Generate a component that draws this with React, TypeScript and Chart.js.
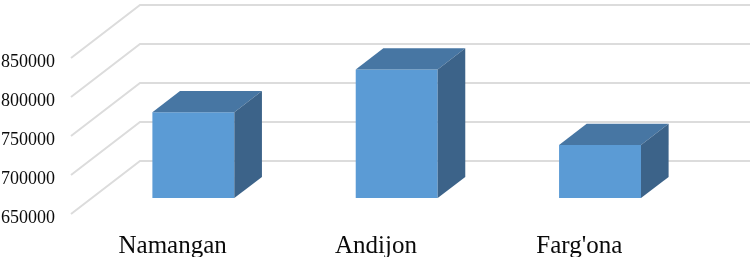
import React, { useEffect, useRef } from "react";
import { Chart, registerables } from "chart.js";

Chart.register(...registerables);

const categories = ["Namangan", "Andijon", "Farg'ona"];
const values = [760000, 815000, 718000];
const yMin = 650000;
const yMax = 850000;
const yStep = 50000;

const FONT = "'Liberation Serif', 'Times New Roman', serif";
const DEPTH_X = 69;
const DEPTH_Y = 53;
const BAR_START = 0.3;
const BAR_DEPTH = 0.4;
const FRONT = "#5b9bd5";
const TOP = "#4776a3";
const SIDE = "#3c6389";
const GRID = "#dcdcdc";
const TEXT = "#0a0a0a";

const wall3d = {
  id: "wall3d",
  beforeDatasetsDraw(chart: any) {
    const { ctx, chartArea, scales } = chart;
    const y = scales.y;
    ctx.save();
    ctx.strokeStyle = GRID;
    ctx.lineWidth = 2;
    y.ticks.forEach((t: any) => {
      const py = y.getPixelForValue(t.value);
      ctx.beginPath();
      ctx.moveTo(chartArea.left, py);
      ctx.lineTo(chartArea.left + DEPTH_X, py - DEPTH_Y);
      ctx.lineTo(chartArea.right + DEPTH_X, py - DEPTH_Y);
      ctx.stroke();
    });
    ctx.restore();
  },
  beforeDatasetDraw(chart: any) {
    const { ctx } = chart;
    ctx.save();
    ctx.translate(DEPTH_X * BAR_START, -DEPTH_Y * BAR_START);
  },
  afterDatasetDraw(chart: any, args: any) {
    const { ctx } = chart;
    const dx = DEPTH_X * BAR_DEPTH;
    const dy = DEPTH_Y * BAR_DEPTH;
    args.meta.data.forEach((el: any) => {
      const { x, y, base, width } = el.getProps(["x", "y", "base", "width"], true);
      const l = x - width / 2;
      const r = x + width / 2;
      ctx.fillStyle = TOP;
      ctx.beginPath();
      ctx.moveTo(l, y);
      ctx.lineTo(r, y);
      ctx.lineTo(r + dx, y - dy);
      ctx.lineTo(l + dx, y - dy);
      ctx.closePath();
      ctx.fill();
      ctx.fillStyle = SIDE;
      ctx.beginPath();
      ctx.moveTo(r, y);
      ctx.lineTo(r + dx, y - dy);
      ctx.lineTo(r + dx, base - dy);
      ctx.lineTo(r, base);
      ctx.closePath();
      ctx.fill();
    });
    ctx.restore();
  },
};

export default function App() {
  const ref = useRef<HTMLCanvasElement | null>(null);
  useEffect(() => {
    const chart = new Chart(ref.current as HTMLCanvasElement, {
      type: "bar",
      plugins: [wall3d],
      data: {
        labels: categories,
        datasets: [
          {
            data: values,
            base: yMin,
            backgroundColor: FRONT,
            borderWidth: 0,
            categoryPercentage: 1,
            barPercentage: 0.403,
            clip: false,
          } as any,
        ],
      },
      options: {
        animation: false,
        responsive: false,
        layout: { padding: { top: 58, right: 74, left: 0, bottom: 0 } },
        plugins: { legend: { display: false }, tooltip: { enabled: false } },
        scales: {
          x: {
            border: { display: false },
            grid: { display: false, drawTicks: false },
            afterFit: (s: any) => {
              s.height = 43;
            },
            ticks: { color: TEXT, padding: 17, maxRotation: 0, font: { family: FONT, size: 25 } },
          },
          y: {
            min: yMin,
            max: yMax,
            border: { display: false },
            grid: { display: false, drawTicks: false },
            afterFit: (s: any) => {
              s.width = 71;
              const compute = s._computeLabelItems;
              s._computeLabelItems = function (area: any) {
                return compute.call(this, area).map((it: any) => ({ ...it, textOffset: it.textOffset + 2 }));
              };
            },
            ticks: {
              stepSize: yStep,
              color: TEXT,
              padding: 16,
              callback: (v: any) => String(v),
              font: { family: FONT, size: 18 },
            },
          },
        },
      },
    });
    return () => chart.destroy();
  }, []);
  return (
    <div style={{ position: "absolute", left: 0, top: 0, width: 755, height: 257, background: "#fff" }}>
      <canvas ref={ref} width={755} height={257} style={{ display: "block" }} />
    </div>
  );
}
